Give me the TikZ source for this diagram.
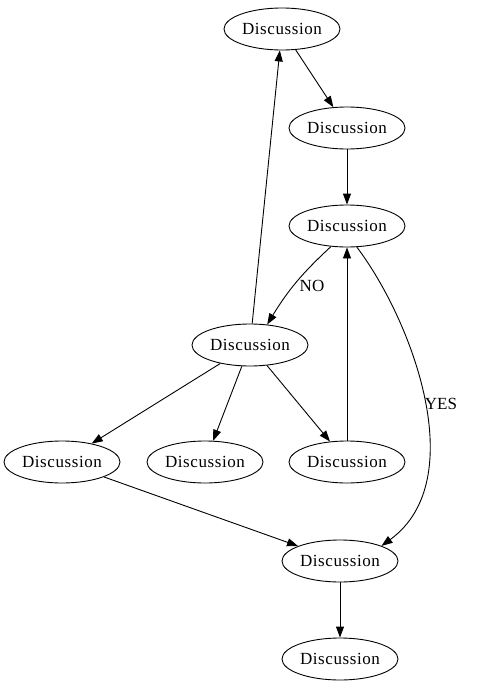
\documentclass[tikz,border=0pt]{standalone}
\usepackage{fontspec}
\newfontfamily\discfont[LetterSpace=3.5]{Liberation Serif}
\newfontfamily\edgefont{Liberation Serif}
\usetikzlibrary{shapes.geometric,arrows.meta}

\begin{document}
\begin{tikzpicture}[
  x=1pt, y=-1pt,
  disc/.style={ellipse, draw, line width=0.9pt, minimum width=116pt, minimum height=42pt,
    inner sep=0pt, font=\discfont\fontsize{17}{20}\selectfont},
  answer/.style={inner sep=1pt, font=\edgefont\fontsize{17}{20}\selectfont},
  flow/.style={draw, line width=0.9pt, -{Triangle[length=11pt,width=8pt]}}
]
\useasboundingbox (0,0) rectangle (484,688);

% the discussion nodes
\node[disc] (d1) at (282,29)  {Discussion};
\node[disc] (d2) at (347,128) {Discussion};
\node[disc] (d3) at (347,226) {Discussion};
\node[disc] (d4) at (250,345) {Discussion};
\node[disc] (d5) at (62,462)  {Discussion};
\node[disc] (d6) at (205,462) {Discussion};
\node[disc] (d7) at (347,462) {Discussion};
\node[disc] (d8) at (340,561) {Discussion};
\node[disc] (d9) at (340,659) {Discussion};

% edges
\path[flow] (d1) -- (d2);
\path[flow] (d2) -- (d3);
\path[flow] (d3.-128) to[bend right=8] (d4.50);
\node[answer] (no) at (312,286) {NO};
\path[flow] (d4) -- (d1);
\path[flow] (d4) -- (d5);
\path[flow] (d4) -- (d6);
\path[flow] (d4) -- (d7);
\path[flow] (d7) -- (d3);
\path[flow] (d3.-65) .. controls (412,320) and (472,480) .. (d8.20);
\node[answer] (yes) at (441,404) {YES};
\path[flow] (d5) -- (d8);
\path[flow] (d8) -- (d9);
\end{tikzpicture}
\end{document}
